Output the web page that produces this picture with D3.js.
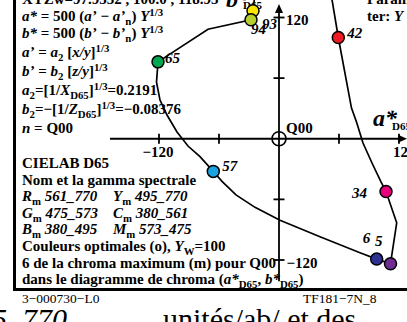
<!DOCTYPE html>
<html><head><meta charset="utf-8">
<script src="https://cdn.jsdelivr.net/npm/d3@7"></script>
<style>html,body{margin:0;padding:0;background:#fff;overflow:hidden}</style>
</head><body>
<svg id="chart" width="407" height="322"></svg>
<script>
// CIELAB chroma loop (a*, b*) of the elementary-hue samples
const loopA = [-121, -71, -28, -26, -23, 49, 59.3, 72.5, 77.5, 84, 93, 102, 107, 117.7, 111.5, 97.7, 81, 41, 1, -24, -43, -57, -65.7, -79, -91, -102, -112, -119, -122.5];
const loopB = [76.1, 108.4, 117.8, 126.7, 151.8, 161.7, 100.2, 30.4, 16.5, -4.2, -24, -42.7, -52.3, -83.2, -123.7, -119.1, -112.8, -97, -80.7, -67.9, -55.6, -42.2, -32.3, -17.7, -7.2, 6.7, 23.5, 38.3, 56];

// marked samples
const sampleNames = ["65", "93", "94", "42", "34", "5", "6", "57"];
const sampleA = [-121, -26, -28, 59.3, 107, 111.5, 97.7, -65.7];
const sampleB = [76.1, 126.7, 117.8, 100.2, -52.3, -123.7, -119.1, -32.3];
const sampleColors = ["#00a651", "#fbe600", "#b6ce2f", "#ed1c24", "#e6007e", "#6f2c91", "#2e3192", "#1aa3e2"];

// axis ticks
const xTicks = [-120, -60, 60, 120];
const yTicks = [-120, -60, 60, 120];
const xTickLabels = ["−120", "120"];
const yTickLabels = ["120", "−120"];

// label placement (px offsets from each marker)
const labelOffsets = [[7, 1.5], [9, 18.5], [0, 14.5], [9, 0], [-34, 6.5], [-15.5, -18], [-14, -16], [9, 0]];

// text block: [text, kind]; kind n = bold, i = bold italic, sub / sup = small shifted
const infoTop = [
  [["XYZw=97.9552 , 100.0 , 118.95", "n"]],
  [["a*", "i"], [" = 500 (", "n"], ["a’", "i"], [" − ", "n"], ["a’", "i"], ["n", "sub"], [") ", "n"], ["Y", "i"], ["1/3", "sup"]],
  [["b*", "i"], [" = 500 (", "n"], ["b’", "i"], [" − ", "n"], ["b’", "i"], ["n", "sub"], [") ", "n"], ["Y", "i"], ["1/3", "sup"]],
  [["a’", "i"], [" = ", "n"], ["a", "i"], ["2", "sub"], [" [", "n"], ["x/y", "i"], ["]", "n"], ["1/3", "sup"]],
  [["b’", "i"], [" = ", "n"], ["b", "i"], ["2", "sub"], [" [", "n"], ["z/y", "i"], ["]", "n"], ["1/3", "sup"]],
  [["a", "i"], ["2", "sub"], ["=[1/", "n"], ["X", "i"], ["D65", "sub"], ["]", "n"], ["1/3", "sup"], ["=0.2191", "n"]],
  [["b", "i"], ["2", "sub"], ["=−[1/", "n"], ["Z", "i"], ["D65", "sub"], ["]", "n"], ["1/3", "sup"], ["=−0.08376", "n"]],
  [["n", "i"], [" = Q00", "n"]]
];
const infoTopY = [4, 20.5, 37.5, 56.5, 75.5, 95, 114, 132.5];

const infoBottom = [
  [["CIELAB D65", "n"]],
  [["Nom et la gamma spectrale", "n"]],
  [["R", "i"], ["m", "sub"], [" 561_770", "i"]],
  [["G", "i"], ["m", "sub"], [" 475_573", "i"]],
  [["B", "i"], ["m", "sub"], [" 380_495", "i"]],
  [["Couleurs optimales (o), ", "n"], ["Y", "i"], ["W", "sub"], ["=100", "n"]],
  [["6 de la chroma maximum (m) pour Q00", "n"]],
  [["dans le diagramme de chroma (", "n"], ["a*", "i"], ["D65", "sub"], [", ", "n"], ["b*", "i"], ["D65", "sub"], [")", "n"]]
];
const infoBottomCol2 = [
  [["Y", "i"], ["m", "sub"], [" 495_770", "i"]],
  [["C", "i"], ["m", "sub"], [" 380_561", "i"]],
  [["M", "i"], ["m", "sub"], [" 573_475", "i"]]
];

const svg = d3.select("#chart");
const serif = "'Liberation Serif','Times New Roman',serif";

const x = d3.scaleLinear().domain([-120, 120]).range([159, 399]);
const y = d3.scaleLinear().domain([-120, 120]).range([260, 17.5]);

function richLine(parent, px, py, segs, size) {
  const t = parent.append("text").attr("x", px).attr("y", py)
    .attr("font-family", serif).attr("font-weight", "bold").attr("font-size", size);
  let shift = 0;
  segs.forEach(([s, k]) => {
    const target = k === "sub" ? 4 : k === "sup" ? -5 : 0;
    const ts = t.append("tspan").attr("dy", target - shift).text(s);
    shift = target;
    if (k === "sub" || k === "sup") ts.attr("font-size", size * 0.72);
    if (k === "i") ts.attr("font-style", "italic");
  });
  return t;
}

// text block
const txt = svg.append("g");
infoTop.forEach((segs, i) => richLine(txt, 22, infoTopY[i], segs, 15));
infoBottom.forEach((segs, i) => richLine(txt, 22, 168 + i * 16.6, segs, 15));
infoBottomCol2.forEach((segs, i) => richLine(txt, 113, 168 + (i + 2) * 16.6, segs, 15));

// side heading, top right
richLine(txt, 367, 4, [["Parame-", "n"]], 15);
richLine(txt, 367, 20.5, [["ter: ", "n"], ["Y", "i"]], 15);

// frame
svg.append("line").attr("x1", 14.5).attr("x2", 14.5).attr("y1", 0).attr("y2", 290.5)
  .attr("stroke", "#000").attr("stroke-width", 3);
svg.append("line").attr("x1", 13).attr("x2", 407).attr("y1", 289.5).attr("y2", 289.5)
  .attr("stroke", "#000").attr("stroke-width", 3);

// footer codes
svg.append("text").attr("x", 22).attr("y", 303).attr("font-family", serif).attr("font-size", 13.5).text("3−000730−L0");
svg.append("text").attr("x", 303).attr("y", 303).attr("font-family", serif).attr("font-size", 13.5).text("TF181−7N_8");

// next caption line, mostly below the page edge
svg.append("text").attr("x", -8).attr("y", 329).attr("font-family", serif).attr("font-style", "italic")
  .attr("font-size", 30).text("5_770");
svg.append("text").attr("x", 163).attr("y", 329).attr("font-family", serif)
  .attr("font-size", 30).text("unités/ab/ et des");

// axes
const ax = svg.append("g").attr("stroke", "#000").attr("stroke-width", 1.8);
const y0 = y(0), x0 = x(0);
ax.append("line").attr("x1", x(-169)).attr("x2", 403).attr("y1", y0).attr("y2", y0);
ax.append("line").attr("x1", x0).attr("x2", x0).attr("y1", y(-141)).attr("y2", 9);
ax.selectAll(".xt").data(xTicks).join("line")
  .attr("x1", d => x(d)).attr("x2", d => x(d)).attr("y1", y0 - 5).attr("y2", y0 + 5);
ax.selectAll(".yt").data(yTicks).join("line")
  .attr("y1", d => y(d)).attr("y2", d => y(d)).attr("x1", x0 - 5.5).attr("x2", x0 + 5.5);
// arrowheads
svg.append("path").attr("d", `M${x0},4 L${x0 - 4},13 L${x0 + 4},13 Z`).attr("fill", "#000");
svg.append("path").attr("d", `M407,${y0} L398,${y0 - 4} L398,${y0 + 4} Z`).attr("fill", "#000");

// tick labels
const tl = svg.append("g").attr("font-family", serif).attr("font-weight", "bold").attr("font-size", 15);
tl.append("text").attr("x", x(-120) - 1).attr("y", y0 + 18.5).attr("text-anchor", "middle").text(xTickLabels[0]);
tl.append("text").attr("x", x(120) - 6).attr("y", y0 + 18.5).text(xTickLabels[1]);
tl.append("text").attr("x", x0 + 7).attr("y", y(120) + 7.5).text(yTickLabels[0]);
tl.append("text").attr("x", x0 + 7.5).attr("y", y(-120) + 7.5).text(yTickLabels[1]);
tl.append("text").attr("x", x0 + 7).attr("y", y0 - 6).text("Q00");

// axis titles
richLine(svg, 373, 126, [["a*", "i"]], 24);
svg.append("text").attr("x", 392).attr("y", 130).attr("font-family", serif).attr("font-weight", "bold").attr("font-size", 11).text("D65");
richLine(svg, 226, 7, [["b*", "i"]], 24);
svg.append("text").attr("x", 243).attr("y", 9).attr("font-family", serif).attr("font-weight", "bold").attr("font-size", 11).text("D65");

// origin marker
svg.append("circle").attr("cx", x0).attr("cy", y0).attr("r", 7)
  .attr("fill", "none").attr("stroke", "#000").attr("stroke-width", 1.6);

// chroma loop
const pts = loopA.map((a, i) => [a, loopB[i]]);
svg.append("path").datum(pts)
  .attr("d", d3.line().x(d => x(d[0])).y(d => y(d[1])).curve(d3.curveLinearClosed))
  .attr("fill", "none").attr("stroke", "#000").attr("stroke-width", 1.7);

// sample markers and names
const samples = sampleNames.map((n, i) => ({ n, a: sampleA[i], b: sampleB[i], c: sampleColors[i], o: labelOffsets[i] }));
svg.append("g").selectAll("circle").data(samples).join("circle")
  .attr("cx", d => x(d.a)).attr("cy", d => y(d.b)).attr("r", 6)
  .attr("fill", d => d.c).attr("stroke", "#000").attr("stroke-width", 1.5);
svg.append("g").attr("font-family", serif).attr("font-weight", "bold").attr("font-style", "italic").attr("font-size", 15)
  .selectAll("text").data(samples).join("text")
  .attr("x", d => x(d.a) + d.o[0]).attr("y", d => y(d.b) + d.o[1]).text(d => d.n);
</script>
</body></html>
